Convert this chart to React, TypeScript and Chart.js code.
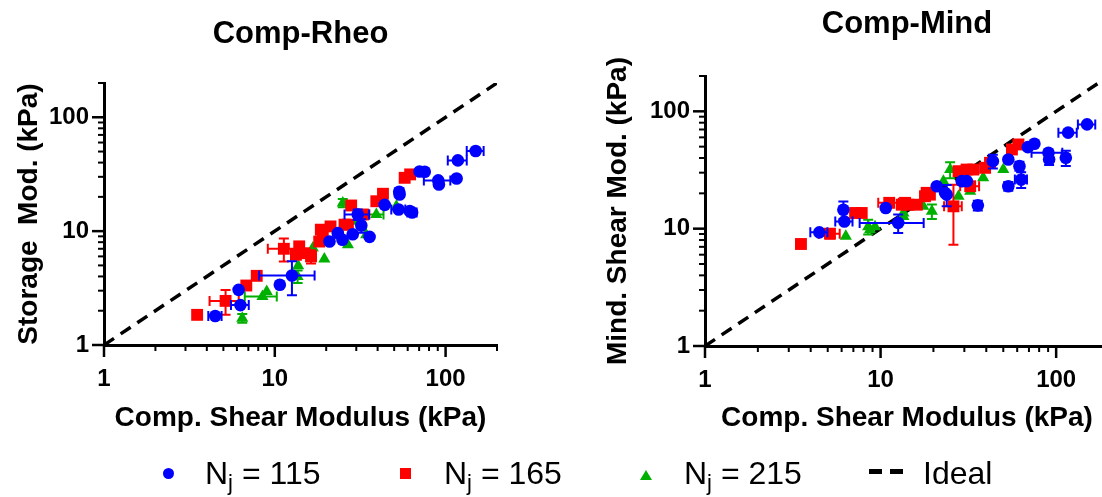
import React, { useEffect, useRef } from 'react';
import { Chart, registerables } from 'chart.js';

Chart.register(...registerables);

const FONT = "'Liberation Sans', Arial, Helvetica, sans-serif";

// ---- axis ticks ----
const tickValues = [1, 2, 3, 4, 5, 6, 7, 8, 9, 10, 20, 30, 40, 50, 60, 70, 80, 90, 100, 200];
const labeledTicks = [1, 10, 100];
const idealLine = [1, 200];

// ---- data rows: [x, y, xErr(±), yErr(±)] ----
type Row = [number, number, number, number];

const rheoN115: Row[] = [
  [150, 50.5, 17, 0], [118, 41.8, 15, 0], [116, 29.0, 0, 0], [90.6, 27.9, 16, 0],
  [91.4, 25.7, 0, 0], [70.4, 33.4, 0, 0], [75.5, 33.2, 0, 0], [53.5, 22.2, 0, 1.5],
  [53.8, 21.0, 0, 0], [44.0, 17.0, 0, 0], [53.1, 15.5, 5, 0], [61.7, 15.0, 0, 0],
  [63.7, 14.6, 4, 0], [30.6, 14.0, 5, 1.5], [32.1, 11.2, 0, 1.5], [35.9, 8.9, 0, 0],
  [28.6, 9.4, 0, 0], [23.4, 9.6, 0, 0], [24.9, 8.4, 0, 0], [20.9, 8.1, 0, 0],
  [12.6, 4.08, 4.5, 1.35], [10.7, 3.38, 0, 0], [6.14, 3.05, 0, 0], [6.29, 2.24, 0.75, 0],
  [4.48, 1.8, 0.4, 0],
];
const rheoN165: Row[] = [
  [3.51, 1.84, 0, 0], [5.15, 2.44, 1.0, 0.6], [6.81, 3.33, 0, 0], [7.84, 4.05, 0, 0],
  [11.3, 7.0, 2.2, 1.6], [13.9, 7.35, 0, 0], [13.3, 6.2, 0, 0], [14.9, 6.4, 0, 0],
  [16.3, 6.0, 0, 0.8], [18.2, 8.1, 0, 0], [19.1, 9.96, 0, 0], [18.6, 10.3, 0, 0],
  [21.2, 11.0, 0, 0], [25.6, 11.4, 0, 0], [26.8, 11.4, 0, 0], [28.0, 16.8, 0, 0],
  [32.8, 14.0, 3, 0], [39.3, 18.3, 0, 0], [43.0, 21.3, 0, 0], [57.6, 29.4, 0, 0],
  [62.0, 31.5, 0, 0],
];
const rheoN215: Row[] = [
  [6.45, 1.72, 0, 0.15], [8.47, 2.67, 1.8, 0], [8.97, 2.95, 0, 0], [13.6, 4.0, 0, 0.5],
  [13.7, 4.97, 0, 0], [16.7, 7.1, 0, 0], [19.5, 5.7, 0, 0], [26.8, 7.6, 0, 0],
  [25.0, 17.7, 0, 1.5], [39.3, 14.0, 4, 0], [34.3, 9.3, 0, 0], [30.6, 12.2, 0, 0],
  [51.5, 16.5, 0, 0],
];

const mindN115: Row[] = [
  [150, 77.4, 17, 0], [117, 65.8, 14, 0], [113.5, 40.2, 0, 6], [90.4, 44.4, 18, 0],
  [91.2, 38.9, 0, 4], [69.0, 49.5, 0, 0], [75.2, 52.9, 0, 0], [61.8, 34.1, 0, 3],
  [63.2, 26.2, 5, 4], [53.4, 38.9, 0, 0], [53.4, 23.0, 0, 2], [43.6, 37.6, 0, 5],
  [35.8, 15.8, 0, 1.5], [31.0, 25.4, 0, 0], [29.0, 25.4, 0, 0], [23.8, 19.5, 0, 4],
  [23.3, 20.2, 0, 0], [20.9, 23.0, 0, 0], [12.6, 11.2, 5, 2], [10.7, 15.0, 0, 0],
  [6.22, 11.5, 0.7, 0], [6.14, 14.5, 0, 2.5], [4.48, 9.3, 0.5, 0],
];
const mindN165: Row[] = [
  [3.52, 7.4, 0, 0], [5.15, 9.06, 0.7, 0.8], [7.16, 13.6, 0, 0], [7.81, 13.6, 0, 0],
  [11.2, 16.6, 1.5, 0], [13.2, 16.0, 0, 0], [13.8, 16.6, 0, 0], [14.4, 16.0, 0, 0],
  [16.1, 16.0, 0, 0], [17.9, 18.9, 0, 0], [18.3, 20.2, 0, 0], [19.1, 19.5, 0, 0],
  [26.0, 15.5, 3, 8.2], [27.8, 30.9, 0, 0], [30.9, 31.9, 0, 0], [33.8, 31.9, 0, 0],
  [32.4, 23.0, 4, 0], [39.4, 33.0, 0, 0], [42.0, 36.4, 0, 0], [56.0, 47.3, 0, 0],
  [61.0, 52.2, 0, 0],
];
const mindN215: Row[] = [
  [6.34, 8.6, 0, 0], [8.5, 10.4, 0, 1.5], [8.7, 9.8, 0, 0], [9.3, 10.4, 0, 0],
  [13.5, 12.7, 0, 0], [13.5, 13.6, 0, 0], [17.5, 15.5, 0, 0], [19.6, 14.1, 0, 2],
  [22.8, 25.4, 0, 0], [24.9, 31.9, 0, 5], [27.8, 18.9, 0, 0], [32.4, 20.8, 0, 0],
  [38.4, 27.1, 0, 0], [50.0, 31.9, 0, 0],
];

const seriesLabels = ['115', '165', '215'];
const seriesColors = ['#0000FF', '#FF0000', '#00B000'];

// ---- plugin: error bars, custom tick marks, panel title ----
const decoPlugin = {
  id: 'panelDeco',
  beforeDatasetDraw(chart: any, args: any) {
    const ds = chart.data.datasets[args.index];
    if (!ds.errorBars) return;
    const { ctx } = chart;
    const xs = chart.scales.x;
    const ys = chart.scales.y;
    const cap = 5;
    ctx.save();
    ctx.strokeStyle = ds.backgroundColor;
    ctx.lineWidth = 2;
    ds.data.forEach((raw: any, i: number) => {
      const el = args.meta.data[i];
      if (!el) return;
      const cx = el.x;
      const cy = el.y;
      ctx.beginPath();
      if (raw.xe > 0) {
        const x1 = xs.getPixelForValue(Math.max(raw.x - raw.xe, 0.01));
        const x2 = xs.getPixelForValue(raw.x + raw.xe);
        ctx.moveTo(x1, cy); ctx.lineTo(x2, cy);
        ctx.moveTo(x1, cy - cap); ctx.lineTo(x1, cy + cap);
        ctx.moveTo(x2, cy - cap); ctx.lineTo(x2, cy + cap);
      }
      if (raw.ye > 0) {
        const y1 = ys.getPixelForValue(Math.max(raw.y - raw.ye, 0.01));
        const y2 = ys.getPixelForValue(raw.y + raw.ye);
        ctx.moveTo(cx, y1); ctx.lineTo(cx, y2);
        ctx.moveTo(cx - cap, y1); ctx.lineTo(cx + cap, y1);
        ctx.moveTo(cx - cap, y2); ctx.lineTo(cx + cap, y2);
      }
      ctx.stroke();
    });
    ctx.restore();
  },
  afterDraw(chart: any, _args: any, opts: any) {
    const { ctx, chartArea } = chart;
    const xs = chart.scales.x;
    const ys = chart.scales.y;
    ctx.save();
    ctx.strokeStyle = '#000';
    tickValues.forEach((v) => {
      const major = labeledTicks.includes(v);
      const len = major ? 12 : 6;
      ctx.lineWidth = major ? 2.5 : 2;
      const px = xs.getPixelForValue(v);
      ctx.beginPath();
      ctx.moveTo(px, chartArea.bottom);
      ctx.lineTo(px, chartArea.bottom + len);
      ctx.stroke();
      const py = ys.getPixelForValue(v);
      ctx.beginPath();
      ctx.moveTo(chartArea.left - len, py);
      ctx.lineTo(chartArea.left, py);
      ctx.stroke();
    });
    if (opts && opts.title) {
      ctx.fillStyle = '#000';
      ctx.font = `bold 31px ${FONT}`;
      ctx.textAlign = 'center';
      ctx.textBaseline = 'alphabetic';
      ctx.fillText(opts.title, (chartArea.left + chartArea.right) / 2, opts.titleY);
    }
    ctx.restore();
  },
};

interface PanelSpec {
  title: string;
  titleY: number;
  yTitle: string;
  series: Row[][];
  padL: number;
  padR: number;
  padT: number;
  padB: number;
  yw: number;
  xh: number;
}

function buildChart(canvas: HTMLCanvasElement, p: PanelSpec) {
  const mk = (rows: Row[]) => rows.map(([x, y, xe, ye]) => ({ x, y, xe, ye }));
  const styles = [
    { pointStyle: 'circle', pointRadius: 6.3 },
    { pointStyle: 'rect', pointRadius: 8.4 },
    { pointStyle: 'triangle', pointRadius: 7 },
  ];
  const datasets: any[] = [
    {
      type: 'line',
      label: 'Ideal',
      data: idealLine.map((v) => ({ x: v, y: v })),
      borderColor: '#000',
      backgroundColor: '#000',
      borderWidth: 3.5,
      borderDash: [12, 8],
      borderCapStyle: 'butt',
      pointRadius: 0,
      fill: false,
      tension: 0,
      order: 4,
    },
  ];
  p.series.forEach((rows, i) => {
    datasets.push({
      label: `Nj = ${seriesLabels[i]}`,
      data: mk(rows),
      pointStyle: styles[i].pointStyle,
      pointRadius: styles[i].pointRadius,
      pointHoverRadius: styles[i].pointRadius,
      backgroundColor: seriesColors[i],
      borderColor: seriesColors[i],
      pointBorderWidth: 0,
      errorBars: true,
      order: i + 1,
    });
  });
  const tickFont = { family: FONT, size: 24, weight: 'bold' as const };
  const titleFont = { family: FONT, size: 28, weight: 'bold' as const };
  return new Chart(canvas, {
    type: 'scatter',
    data: { datasets },
    options: {
      responsive: false,
      animation: false,
      events: [],
      layout: { padding: { left: p.padL, right: p.padR, top: p.padT, bottom: p.padB } },
      plugins: {
        legend: { display: false },
        tooltip: { enabled: false },
        title: { display: false },
        panelDeco: { title: p.title, titleY: p.titleY },
      } as any,
      scales: {
        x: {
          type: 'logarithmic',
          position: 'bottom',
          min: 1,
          max: 200,
          afterBuildTicks: (s: any) => { s.ticks = tickValues.map((v) => ({ value: v })); },
          afterFit: (s: any) => { s.height = p.xh; },
          ticks: {
            autoSkip: false,
            maxRotation: 0,
            padding: 8,
            color: '#000',
            font: tickFont,
            callback: (v: any) => (labeledTicks.includes(Number(v)) ? String(v) : ''),
          },
          grid: { display: true, drawOnChartArea: false, drawTicks: true, tickLength: 12, tickColor: 'rgba(0,0,0,0)' },
          border: { display: true, color: '#000', width: 3 },
          title: { display: true, text: 'Comp. Shear Modulus (kPa)', color: '#000', font: titleFont, padding: { top: 0, bottom: 0 } },
        },
        y: {
          type: 'logarithmic',
          position: 'left',
          min: 1,
          max: 200,
          afterBuildTicks: (s: any) => { s.ticks = tickValues.map((v) => ({ value: v })); },
          afterFit: (s: any) => { s.width = p.yw; },
          ticks: {
            autoSkip: false,
            padding: 3,
            color: '#000',
            font: tickFont,
            callback: (v: any) => (labeledTicks.includes(Number(v)) ? String(v) : ''),
          },
          grid: { display: true, drawOnChartArea: false, drawTicks: true, tickLength: 12, tickColor: 'rgba(0,0,0,0)' },
          border: { display: true, color: '#000', width: 3 },
          title: { display: true, text: p.yTitle, color: '#000', font: titleFont, padding: { top: 0, bottom: 0 } },
        },
      },
    } as any,
    plugins: [decoPlugin as any],
  });
}

const leftPanel: PanelSpec = {
  title: 'Comp-Rheo', titleY: 43, yTitle: 'Storage  Mod. (kPa)',
  series: [rheoN115, rheoN165, rheoN215],
  padL: 12, padR: 63, padT: 83, padB: 62, yw: 92, xh: 90,
};
const rightPanel: PanelSpec = {
  title: 'Comp-Mind', titleY: 33, yTitle: 'Mind. Shear Mod. (kPa)',
  series: [mindN115, mindN165, mindN215],
  padL: 41, padR: 11, padT: 76, padB: 62, yw: 104, xh: 89,
};

function Panel({ spec, left }: { spec: PanelSpec; left: number }) {
  const ref = useRef<HTMLCanvasElement | null>(null);
  useEffect(() => {
    if (!ref.current) return;
    const chart = buildChart(ref.current, spec);
    return () => chart.destroy();
  }, [spec]);
  return (
    <canvas
      ref={ref}
      width={560}
      height={497}
      style={{ position: 'absolute', left, top: 0, width: 560, height: 497 }}
    />
  );
}

const textStyle: React.CSSProperties = {
  position: 'absolute',
  top: 457,
  fontFamily: FONT,
  fontSize: 32,
  lineHeight: '32px',
  color: '#000',
  whiteSpace: 'nowrap',
};
const subStyle: React.CSSProperties = { fontSize: 22, position: 'relative', top: 6 };

function Legend() {
  return (
    <>
      <div style={{ position: 'absolute', left: 162.5, top: 467.5, width: 11, height: 11, borderRadius: '50%', background: seriesColors[0] }} />
      <div style={{ ...textStyle, left: 205 }}>N<span style={subStyle}>j</span> = {seriesLabels[0]}</div>
      <div style={{ position: 'absolute', left: 399.5, top: 467.5, width: 11, height: 11, background: seriesColors[1] }} />
      <div style={{ ...textStyle, left: 444 }}>N<span style={subStyle}>j</span> = {seriesLabels[1]}</div>
      <div style={{ position: 'absolute', left: 640, top: 470, width: 0, height: 0, borderLeft: '6px solid transparent', borderRight: '6px solid transparent', borderBottom: `10px solid ${seriesColors[2]}` }} />
      <div style={{ ...textStyle, left: 684 }}>N<span style={subStyle}>j</span> = {seriesLabels[2]}</div>
      <div style={{ position: 'absolute', left: 869, top: 469, width: 13, height: 4.5, background: '#000' }} />
      <div style={{ position: 'absolute', left: 890, top: 469, width: 13, height: 4.5, background: '#000' }} />
      <div style={{ ...textStyle, left: 923 }}>Ideal</div>
    </>
  );
}

export default function App() {
  return (
    <div style={{ position: 'absolute', left: 0, top: 0, width: 1102, height: 497, overflow: 'hidden', background: '#fff' }}>
      <Panel spec={leftPanel} left={0} />
      <Panel spec={rightPanel} left={560} />
      <Legend />
    </div>
  );
}
